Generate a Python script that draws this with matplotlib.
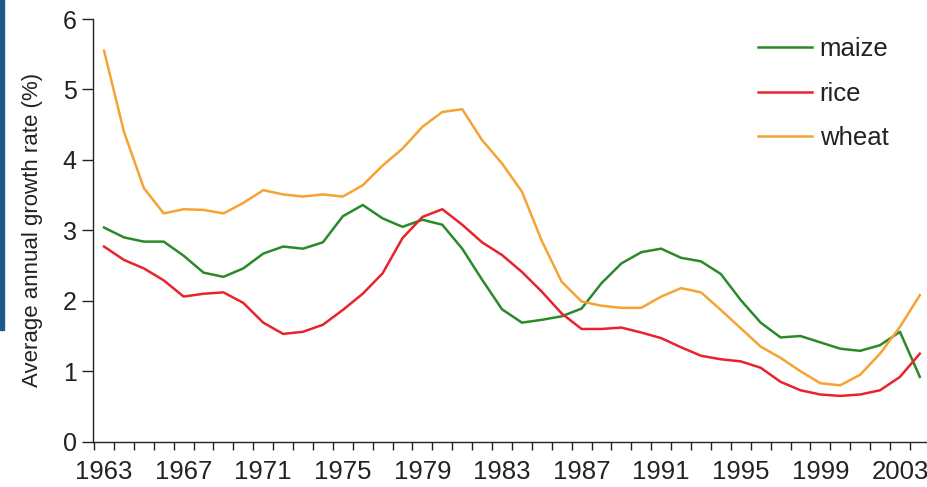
import matplotlib
matplotlib.use("Agg")
import matplotlib.pyplot as plt
import matplotlib.patches as mpatches
import numpy as np

years = list(range(1963, 2005))

maize = [3.04, 2.90, 2.84, 2.84, 2.64, 2.40, 2.34, 2.46, 2.67, 2.77,
         2.74, 2.83, 3.20, 3.36, 3.17, 3.05, 3.15, 3.08, 2.74, 2.30,
         1.88, 1.69, 1.73, 1.78, 1.89, 2.25, 2.53, 2.69, 2.74, 2.61,
         2.56, 2.38, 2.01, 1.69, 1.48, 1.50, 1.41, 1.32, 1.29, 1.37,
         1.56, 0.92]

rice = [2.77, 2.58, 2.46, 2.29, 2.06, 2.10, 2.12, 1.97, 1.69, 1.53,
        1.56, 1.66, 1.87, 2.10, 2.39, 2.89, 3.19, 3.30, 3.08, 2.83,
        2.65, 2.41, 2.13, 1.82, 1.60, 1.60, 1.62, 1.55, 1.47, 1.34,
        1.22, 1.17, 1.14, 1.05, 0.85, 0.73, 0.67, 0.65, 0.67, 0.73,
        0.92, 1.25]

wheat = [5.55, 4.40, 3.60, 3.24, 3.30, 3.29, 3.24, 3.39, 3.57, 3.51,
         3.48, 3.51, 3.48, 3.64, 3.92, 4.16, 4.47, 4.68, 4.72, 4.28,
         3.95, 3.55, 2.85, 2.27, 1.99, 1.93, 1.90, 1.90, 2.06, 2.18,
         2.12, 1.87, 1.61, 1.35, 1.19, 1.00, 0.83, 0.80, 0.95, 1.25,
         1.63, 2.08]

tick_years = list(range(1963, 2004, 4))
y_ticks = [0, 1, 2, 3, 4, 5, 6]

W, H = 928, 487
fig = plt.figure(figsize=(W / 100, H / 100), dpi=100)
fig.patch.set_facecolor("white")
plt.rcParams["font.family"] = ["Liberation Sans", "DejaVu Sans"]

ax = fig.add_axes([93.3 / W, 1 - 441.7 / H, 1 - 93.3 / W, (441.7 - 19) / H])

c_maize = "#2a8a2a"
c_rice = "#e8232b"
c_wheat = "#f5a333"

ax.plot(years, maize, color=c_maize, lw=1.8, label="maize")
ax.plot(years, rice, color=c_rice, lw=1.8, label="rice")
ax.plot(years, wheat, color=c_wheat, lw=1.8, label="wheat")

ax.set_xlim(1962.46, 2004.41)
ax.set_ylim(0, 6)

for s in ["top", "right"]:
    ax.spines[s].set_visible(False)
for s in ["left", "bottom"]:
    ax.spines[s].set_color("#222222")
    ax.spines[s].set_linewidth(1.0)

ax.set_yticks(y_ticks)
ax.set_yticklabels([str(v) for v in y_ticks], fontsize=18, color="#222222")
ax.tick_params(axis="y", direction="out", length=8, width=1, color="#222222", pad=4)

ax.set_xticks(tick_years)
ax.set_xticklabels([str(v) for v in tick_years], fontsize=18.5, color="#222222")
ax.set_xticks([y - 0.5 for y in years], minor=True)
ax.tick_params(axis="x", which="major", length=0, pad=13)
ax.tick_params(axis="x", which="minor", direction="out", length=6, width=1, color="#222222")

ax.set_ylabel("Average annual growth rate (%)", fontsize=16, color="#222222", labelpad=14)

leg = ax.legend(loc="upper left", bbox_to_anchor=(758 / W, 1 - 37 / H),
                bbox_transform=fig.transFigure, frameon=False, fontsize=18.5,
                handlelength=2.1, handletextpad=0.3, labelspacing=0.8,
                borderaxespad=0, borderpad=0)
for t in leg.get_texts():
    t.set_color("#222222")

fig.patches.append(mpatches.Rectangle((0, 1 - 330 / H), 4 / W, 330 / H,
                                      transform=fig.transFigure, color="#1a5a8c",
                                      zorder=10))

fig.savefig("out.png", dpi=100)
